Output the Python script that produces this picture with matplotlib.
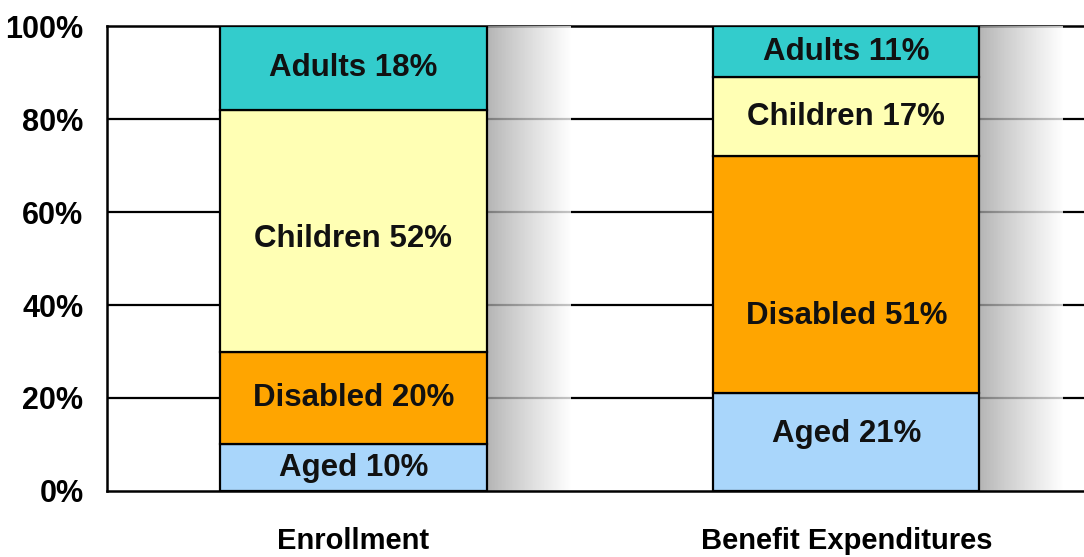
import numpy as np
import matplotlib
matplotlib.use("Agg")
import matplotlib.pyplot as plt

categories = ["Enrollment", "Benefit Expenditures"]
groups = ["Aged", "Disabled", "Children", "Adults"]
aged = [10, 21]
disabled = [20, 51]
children = [52, 17]
adults = [18, 11]
yticks = [0, 20, 40, 60, 80, 100]
ytick_labels = ["0%", "20%", "40%", "60%", "80%", "100%"]

colors = {
    "Aged": "#A9D6FB",
    "Disabled": "#FFA500",
    "Children": "#FFFFB4",
    "Adults": "#33CCCC",
}

# vertical nudges (in % units) for a few segment labels
label_nudge = {
    (0, "Children"): -1.7,
    (1, "Disabled"): -8.9,
    (1, "Aged"): 1.7,
}

plt.rcParams["font.family"] = ["Liberation Sans", "DejaVu Sans"]
plt.rcParams["font.weight"] = "bold"

fig = plt.figure(figsize=(10.84, 5.57), dpi=100)
ax = fig.add_axes([0.0987, 0.1185, 0.9094, 0.8348])

x = np.arange(len(categories))
bar_w = 0.54
shadow_w = 0.17

# horizontal grid lines
for yv in yticks[1:-1]:
    ax.axhline(yv, color="black", lw=1.6, zorder=1)

# soft grey shadow to the right of each bar
grad = np.linspace(0, 1, 256)
rgba = np.zeros((1, 256, 4))
shade = 0.62 + 0.38 * grad ** 0.9
rgba[0, :, 0] = shade
rgba[0, :, 1] = shade
rgba[0, :, 2] = shade
rgba[0, :, 3] = 0.78
for xi in x:
    x0 = xi + bar_w / 2
    ax.imshow(rgba, extent=[x0, x0 + shadow_w, 0, 100], aspect="auto",
              interpolation="bilinear", zorder=2)

ax.set_xlim(-0.5, 1.5)
ax.set_ylim(0, 100)

series = [("Aged", aged), ("Disabled", disabled), ("Children", children), ("Adults", adults)]
bottom = np.zeros(len(categories))
for name, vals in series:
    vals = np.array(vals, dtype=float)
    ax.bar(x, vals, bar_w, bottom=bottom, color=colors[name],
           edgecolor="black", linewidth=1.6, zorder=3)
    for i, (xi, b, v) in enumerate(zip(x, bottom, vals)):
        yc = b + v / 2 + label_nudge.get((i, name), 0.0)
        ax.text(xi, yc, f"{name} {int(v)}%", ha="center", va="center",
                fontsize=22.5, fontweight="bold", color="#111111", zorder=4)
    bottom += vals

for s in ["left", "bottom"]:
    ax.spines[s].set_linewidth(1.8)
    ax.spines[s].set_zorder(5)
ax.spines["top"].set_linewidth(1.8)
ax.spines["top"].set_zorder(1)
ax.spines["right"].set_visible(False)

ax.set_yticks(yticks)
ax.set_yticklabels(ytick_labels, fontsize=22, fontweight="bold")
ax.set_xticks(x)
ax.set_xticklabels(categories, fontsize=21, fontweight="bold")
ax.tick_params(axis="y", length=0, pad=17)
ax.tick_params(axis="x", length=0, pad=26)

fig.savefig("out.png", dpi=100)
